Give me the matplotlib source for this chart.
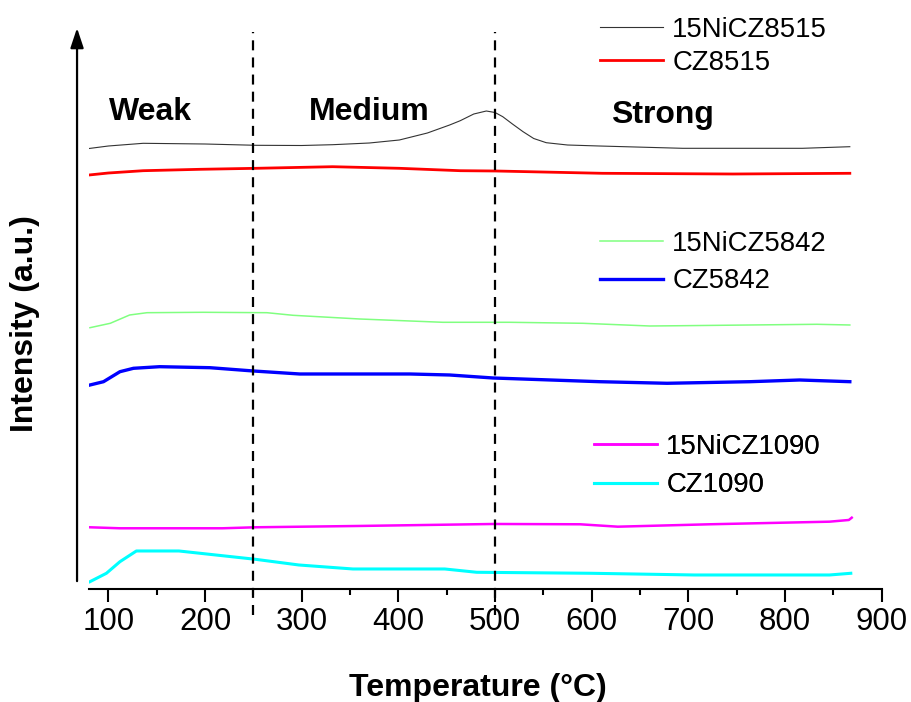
import matplotlib
matplotlib.use("Agg")
import matplotlib.pyplot as plt
from matplotlib.ticker import MultipleLocator

plt.rcParams['font.family'] = ['Liberation Sans', 'DejaVu Sans']

# NH3-TPD traces (intensity in arbitrary offset units)
t_ni8515 = [80, 100, 136, 200, 253, 300, 332, 370, 401, 430, 453, 464, 478, 491,
            500, 508, 518, 529, 540, 553, 575, 608, 694, 818, 867]
i_ni8515 = [4.405, 4.43, 4.457, 4.45, 4.437, 4.435, 4.443, 4.46, 4.49, 4.56, 4.64,
            4.683, 4.75, 4.78, 4.765, 4.723, 4.65, 4.573, 4.505, 4.463, 4.44, 4.43,
            4.407, 4.407, 4.423]

t_cz8515 = [80, 100, 136, 195, 253, 332, 401, 464, 501, 611, 746, 867]
i_cz8515 = [4.14, 4.16, 4.183, 4.197, 4.207, 4.223, 4.207, 4.183, 4.18, 4.157, 4.15, 4.157]

t_ni5842 = [81, 102, 122, 140, 198, 264, 291, 360, 446, 515, 591, 660, 694, 833, 867]
i_ni5842 = [2.613, 2.657, 2.74, 2.763, 2.767, 2.763, 2.737, 2.70, 2.667, 2.667,
            2.657, 2.63, 2.633, 2.647, 2.64]

t_cz5842 = [81, 95, 112, 126, 153, 205, 250, 298, 412, 453, 498, 608, 678, 764, 815, 867]
i_cz5842 = [2.04, 2.073, 2.173, 2.207, 2.223, 2.213, 2.18, 2.15, 2.15, 2.14, 2.11,
            2.073, 2.057, 2.073, 2.09, 2.073]

t_ni1090 = [81, 112, 218, 252, 358, 499, 588, 627, 722, 846, 866, 869]
i_ni1090 = [0.617, 0.607, 0.607, 0.617, 0.63, 0.65, 0.647, 0.623, 0.647, 0.673, 0.69, 0.713]

t_cz1090 = [81, 98, 112, 129, 173, 252, 297, 353, 448, 481, 599, 706, 846, 868]
i_cz1090 = [0.073, 0.157, 0.273, 0.38, 0.38, 0.297, 0.24, 0.20, 0.20, 0.167, 0.157,
            0.14, 0.14, 0.157]

boundaries = [250, 500]
regions = ['Weak', 'Medium', 'Strong']
region_t = [144, 370, 673]
region_i = [4.77, 4.77, 4.74]

fig = plt.figure(figsize=(9.12, 7.02), dpi=100)
ax = fig.add_axes([0.0976, 0.1610, 0.8692, 0.7991])
ax.set_xlim(80, 900)
ax.set_ylim(0, 5.61)

l1, = ax.plot(t_ni8515, i_ni8515, color='#333333', lw=0.8, label='15NiCZ8515')
l2, = ax.plot(t_cz8515, i_cz8515, color='#ff0000', lw=2.0, label='CZ8515')
l3, = ax.plot(t_ni5842, i_ni5842, color='#80ff80', lw=1.1, label='15NiCZ5842')
l4, = ax.plot(t_cz5842, i_cz5842, color='#0000ff', lw=2.4, label='CZ5842')
l5, = ax.plot(t_ni1090, i_ni1090, color='#ff00ff', lw=1.8, label='15NiCZ1090')
l6, = ax.plot(t_cz1090, i_cz1090, color='#00ffff', lw=2.2, label='CZ1090')

for b in boundaries:
    ax.plot([b, b], [-0.26, 5.57], color='black', lw=1.6, dashes=(4.5, 3.2),
            clip_on=False)

for name, t, i in zip(regions, region_t, region_i):
    ax.text(t, i, name, fontsize=23, fontweight='bold', ha='center', va='center')

# three separate two-entry legends
legs = [([l1, l2], 0.6579, 0.9340, 0.26),
        ([l3, l4], 0.6579, 0.6262, 0.42),
        ([l5, l6], 0.6513, 0.3360, 0.46)]
for handles, x, y, ls in legs:
    leg = ax.legend(handles=handles, loc='center left', bbox_to_anchor=(x, y),
                    bbox_transform=fig.transFigure, frameon=False, fontsize=19.8,
                    handlelength=2.3, handletextpad=0.33, labelspacing=ls,
                    borderpad=0, borderaxespad=0)
    ax.add_artist(leg)

for s in ['left', 'top', 'right']:
    ax.spines[s].set_visible(False)
ax.spines['bottom'].set_linewidth(1.5)
ax.set_yticks([])
ax.xaxis.set_minor_locator(MultipleLocator(50))
ax.set_xticks(range(100, 901, 100))
ax.tick_params(axis='x', which='major', length=9, width=1.5, labelsize=22.5, pad=4)
ax.tick_params(axis='x', which='minor', length=4.5, width=1.5)

# y axis drawn as an arrow
ax.annotate('', xy=(-0.0151, 1.0), xytext=(-0.0151, 0.014), xycoords='axes fraction',
            arrowprops=dict(arrowstyle='-|>,head_length=0.6,head_width=0.2',
                            mutation_scale=20, lw=1.6, color='black',
                            shrinkA=0, shrinkB=0))

ax.set_xlabel('Temperature (°C)', fontsize=23, fontweight='bold')
ax.xaxis.set_label_coords(0.49, -0.1765)
ax.xaxis.label.set_verticalalignment('center')
ax.set_ylabel('Intensity (a.u.)', fontsize=23, fontweight='bold')
ax.yaxis.set_label_coords(-0.0807, 0.4724)
ax.yaxis.label.set_verticalalignment('center')

fig.savefig('out.png', dpi=100)
